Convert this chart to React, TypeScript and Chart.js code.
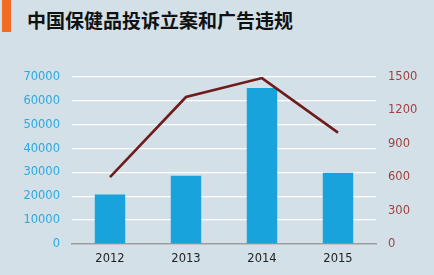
import React, { useEffect, useRef } from "react";
import { Chart, registerables } from "chart.js";

Chart.register(...registerables);

const categories = ["2012", "2013", "2014", "2015"];
const complaints = [20800, 28600, 65400, 29900];
const adViolations = [600, 1320, 1490, 1000];
const title = "中国保健品投诉立案和广告违规";

export default function App() {
  const ref = useRef<HTMLCanvasElement | null>(null);

  useEffect(() => {
    document.body.style.margin = "0";
    const ctx = ref.current!;
    const font = { family: "DejaVu Sans", size: 11.5 };
    const plain = (v: any) => String(v);
    const chart = new Chart(ctx, {
      type: "bar",
      data: {
        labels: categories,
        datasets: [
          {
            type: "line",
            data: adViolations,
            yAxisID: "y2",
            borderColor: "#6e1c1c",
            borderWidth: 2.6,
            pointRadius: 0,
            tension: 0,
            order: 0,
          } as any,
          {
            type: "bar",
            data: complaints,
            yAxisID: "y",
            backgroundColor: "#18a3dc",
            barPercentage: 0.8,
            categoryPercentage: 0.5,
            order: 1,
          },
        ],
      },
      options: {
        animation: false,
        responsive: false,
        maintainAspectRatio: false,
        layout: { padding: { top: 77, bottom: 0, left: 0, right: 0 } },
        plugins: { legend: { display: false }, tooltip: { enabled: false }, title: { display: false } },
        scales: {
          x: {
            offset: true,
            grid: { display: false, drawTicks: false },
            border: { display: true, color: "#9a9a9a", width: 1.5 },
            ticks: { color: "#222", font, padding: 8 },
            afterFit: (s: any) => { s.height = 31; },
          },
          y: {
            position: "left",
            min: 0,
            max: 70000,
            ticks: { stepSize: 10000, color: "#29abe2", font, padding: 12, callback: plain },
            grid: { color: "#ffffff", lineWidth: 1.3, drawTicks: false },
            border: { display: false },
            afterFit: (s: any) => { s.width = 72; },
          },
          y2: {
            position: "right",
            min: 0,
            max: 1500,
            ticks: { stepSize: 300, color: "#a0403f", font, padding: 12, callback: plain },
            grid: { drawOnChartArea: false, drawTicks: false },
            border: { display: false },
            afterFit: (s: any) => { s.width = 58; },
          },
        },
      },
    });
    return () => chart.destroy();
  }, []);

  return (
    <div style={{ position: "relative", width: 434, height: 275, background: "#d3e0e8", overflow: "hidden" }}>
      <div style={{ position: "absolute", left: 2, top: 0, width: 9, height: 32, background: "#f26b22" }} />
      <div
        style={{
          position: "absolute",
          left: 27,
          top: 8,
          fontFamily: "'Noto Sans CJK SC', sans-serif",
          fontWeight: 700,
          fontSize: 19,
          lineHeight: "24px",
          color: "#111",
          whiteSpace: "nowrap",
          letterSpacing: 0,
        }}
      >
        {title}
      </div>
      <canvas ref={ref} width={434} height={275} style={{ position: "absolute", left: 0, top: 0 }} />
    </div>
  );
}
